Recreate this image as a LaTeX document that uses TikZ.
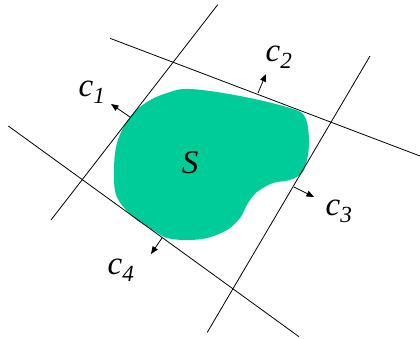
\documentclass[tikz,border=0pt]{standalone}
\usepackage{fontspec}
\setmainfont{Liberation Serif}
\usetikzlibrary{arrows.meta}
\definecolor{regiongreen}{RGB}{0,204,153}

\begin{document}
\begin{tikzpicture}[
	x=1pt, y=-1pt,
	cut/.style={line width=0.8pt, black},
	normal/.style={line width=0.8pt, -{Triangle[length=7.5pt, width=6pt]}},
	lab/.style={font=\fontsize{33}{34}\selectfont\itshape, inner sep=0pt},
]
	\useasboundingbox (0, 0) rectangle (420, 338);

	% The region S
	\fill[regiongreen] plot[smooth cycle, tension=0.6] coordinates {
		(190, 89) (240, 96) (290, 108) (305, 117) (309, 140) (307, 160)
		(302, 173) (290, 180) (273, 183) (257, 192) (248, 203) (240, 218)
		(227, 230) (207, 238) (187, 240) (167, 238) (153, 230) (133, 217)
		(117, 197) (114, 173) (117, 143) (130, 117) (147, 102) (167, 93)
	};
	\node[lab] (S) at (190, 163) {S};

	% Cutting planes
	\coordinate (a1) at (217.7, 4.7);  \coordinate (b1) at (51, 220);
	\coordinate (a2) at (110, 38.3);   \coordinate (b2) at (420, 156);
	\coordinate (a3) at (370, 56);     \coordinate (b3) at (207.3, 332.3);
	\coordinate (a4) at (8.3, 126);    \coordinate (b4) at (299, 336.7);
	\foreach \k in {1, ..., 4} {
		\draw[cut] (a\k) -- (b\k);
	}

	% Normals with their labels
	\foreach \k/\px/\py/\qx/\qy/\lx/\ly in {1/130/117/111/104/92/92,
		2/258/93/266/74/279/57,
		3/294/187/314/197/339/211,
		4/162/238/151/254/121/270} {
		\coordinate (p\k) at (\px, \py);
		\coordinate (q\k) at (\qx, \qy);
		\draw[normal] (p\k) -- (q\k);
		\node[lab] (c\k) at (\lx, \ly) {c\textsubscript{\k}};
	}
\end{tikzpicture}
\end{document}
